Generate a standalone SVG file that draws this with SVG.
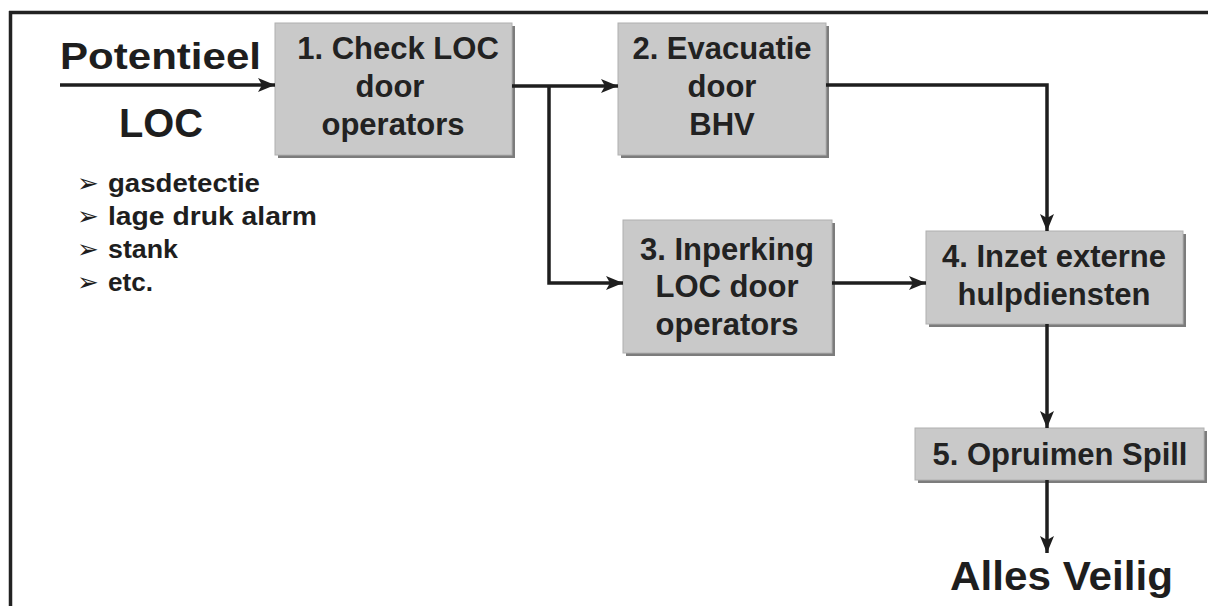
<svg xmlns="http://www.w3.org/2000/svg" width="1208" height="606" viewBox="0 0 1208 606">
<style>
  .t { font-family: "Liberation Sans", Arial, sans-serif; fill: #1e1e1e; }
  .b { font-weight: bold; }
  .box { fill: #c9c9c9; stroke: #b0b0b0; stroke-width: 1; }
  .sh { fill: #7c7c7c; }
  .bt { font-family: "Liberation Sans", Arial, sans-serif; font-weight: bold; font-size: 31px; fill: #222; text-anchor: middle; }
  .bul { font-family: "DejaVu Sans", sans-serif; font-size: 26px; fill: #1e1e1e; }
  .lt { font-family: "Liberation Sans", Arial, sans-serif; font-weight: bold; font-size: 26px; fill: #1e1e1e; }
  .c { fill: none; stroke: #1e1e1e; stroke-width: 3.5; stroke-linejoin: miter; }
</style>
<defs>
  <marker id="ah" markerUnits="userSpaceOnUse" markerWidth="18" markerHeight="16" viewBox="0 0 18 16" refX="17" refY="8" orient="auto">
    <path d="M0,1 L17,8 L0,15 L4,8 z" fill="#1e1e1e"/>
  </marker>
</defs>
<rect width="1208" height="606" fill="#ffffff"/>
<g id="frame">
  <line x1="9" y1="12.5" x2="1208" y2="12.5" stroke="#222" stroke-width="3.5"/>
  <line x1="10.5" y1="11" x2="10.5" y2="606" stroke="#222" stroke-width="3.5"/>
</g>
<g id="start">
  <text class="t b" x="60" y="69" font-size="36" textLength="201" lengthAdjust="spacingAndGlyphs">Potentieel</text>
  <text class="t b" x="119" y="137" font-size="41" textLength="84" lengthAdjust="spacingAndGlyphs">LOC</text>
</g>
<g id="bullets">
  <text class="bul" x="77" y="192">➢</text>
  <text class="lt" x="108" y="192" textLength="152" lengthAdjust="spacingAndGlyphs">gasdetectie</text>
  <text class="bul" x="77" y="225">➢</text>
  <text class="lt" x="108" y="225" textLength="209" lengthAdjust="spacingAndGlyphs">lage druk alarm</text>
  <text class="bul" x="77" y="258">➢</text>
  <text class="lt" x="108" y="258" textLength="70" lengthAdjust="spacingAndGlyphs">stank</text>
  <text class="bul" x="77" y="291">➢</text>
  <text class="lt" x="108" y="291" textLength="45" lengthAdjust="spacingAndGlyphs">etc.</text>
</g>
<g id="node1">
  <rect class="sh" x="278" y="26" width="237" height="132"/>
  <rect class="box" x="275" y="23" width="237" height="132"/>
  <text class="bt" x="398" y="59">1. Check LOC</text>
  <text class="bt" x="390" y="97">door</text>
  <text class="bt" x="393" y="135">operators</text>
</g>
<g id="node2">
  <rect class="sh" x="621" y="26" width="208" height="132"/>
  <rect class="box" x="618" y="23" width="208" height="132"/>
  <text class="bt" x="722" y="59">2. Evacuatie</text>
  <text class="bt" x="722" y="97">door</text>
  <text class="bt" x="722" y="135">BHV</text>
</g>
<g id="node3">
  <rect class="sh" x="626" y="223" width="209" height="133"/>
  <rect class="box" x="623" y="220" width="209" height="133"/>
  <text class="bt" x="727" y="260">3. Inperking</text>
  <text class="bt" x="727" y="297">LOC door</text>
  <text class="bt" x="727" y="335">operators</text>
</g>
<g id="node4">
  <rect class="sh" x="929" y="234" width="257" height="93"/>
  <rect class="box" x="926" y="231" width="257" height="93"/>
  <text class="bt" x="1054" y="267">4. Inzet externe</text>
  <text class="bt" x="1054" y="305">hulpdiensten</text>
</g>
<g id="node5">
  <rect class="sh" x="918" y="431" width="289" height="52"/>
  <rect class="box" x="915" y="428" width="289" height="52"/>
  <text class="bt" x="1060" y="465">5. Opruimen Spill</text>
</g>
<g id="end">
  <text class="t b" x="950" y="590" font-size="40" textLength="223" lengthAdjust="spacingAndGlyphs">Alles Veilig</text>
</g>
<g id="connectors">
  <path class="c" d="M60,85 H275" marker-end="url(#ah)"/>
  <path class="c" d="M512,86 H618" marker-end="url(#ah)"/>
  <path class="c" d="M549,86 V283 H623" marker-end="url(#ah)"/>
  <path class="c" d="M826,85 H1047 V231" marker-end="url(#ah)"/>
  <path class="c" d="M832,283 H926" marker-end="url(#ah)"/>
  <path class="c" d="M1047,324 V428" marker-end="url(#ah)"/>
  <path class="c" d="M1047,480 V553" marker-end="url(#ah)"/>
</g>
</svg>
